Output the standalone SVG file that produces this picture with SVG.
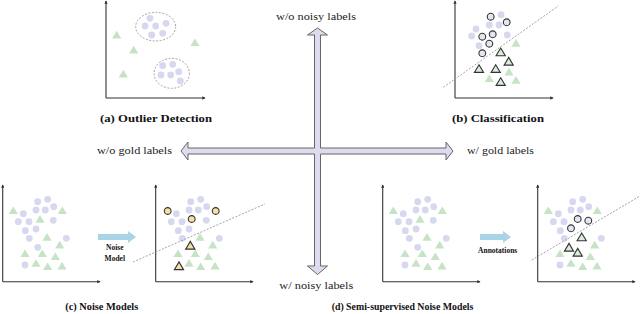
<svg xmlns="http://www.w3.org/2000/svg" xmlns:xlink="http://www.w3.org/1999/xlink" width="640" height="314" viewBox="0 0 640 314">
<style>
.ax{stroke:#333;stroke-width:1.1;fill:none}
.p{fill:#d6d8ef}
.g{fill:#c6e3c6}
.oc{fill:#e4e5f4;stroke:#333;stroke-width:1.1}
.ot{fill:#d9edd9;stroke:#333;stroke-width:1.1}
.yc{fill:#f6dfa6;stroke:#333;stroke-width:1.1}
.dash{stroke:#999;stroke-width:0.9;stroke-dasharray:2 1.5;fill:none}
.cap{font-family:"Liberation Serif","DejaVu Serif",serif;font-weight:bold;font-size:10.5px;fill:#111;text-anchor:middle}
.lab{font-family:"Liberation Serif","DejaVu Serif",serif;font-size:10.5px;fill:#222}
.sm{font-family:"Liberation Serif","DejaVu Serif",serif;font-weight:bold;font-size:7.5px;fill:#111;text-anchor:middle}
.blue{fill:#a9d3e6}
</style>
<defs>
<marker id="ah" viewBox="0 0 6 6" refX="5" refY="3" markerWidth="3" markerHeight="3" orient="auto"><path d="M0,0L6,3L0,6Z" fill="#333"/></marker>
<circle id="c" r="3.4"/>
<polygon id="t" points="0,-4.3 4.6,3.4 -4.6,3.4"/>
</defs>

<g id="connectors">
<path d="M317.5,28 L327.5,35 L320.5,35 L320.5,148 L446,148 L446,142 L453,151 L446,160 L446,154 L320.5,154 L320.5,266 L327.5,266 L317.5,274.5 L307.5,266 L314.5,266 L314.5,154 L188,154 L188,160 L181,151 L188,142 L188,148 L314.5,148 L314.5,35 L307.5,35 Z" fill="#dcdcee" stroke="#666" stroke-width="1"/>
<path class="blue" d="M98,234 L128,234 L128,231 L136,237 L128,243 L128,240 L98,240 Z"/>
<path class="blue" d="M480,234 L503,234 L503,231 L511,237 L503,243 L503,240 L480,240 Z"/>
</g>

<g id="labels">
<text class="lab" x="316" y="20" text-anchor="middle" textLength="80" lengthAdjust="spacingAndGlyphs">w/o noisy labels</text>
<text class="lab" x="316.3" y="289" text-anchor="middle" textLength="74" lengthAdjust="spacingAndGlyphs">w/ noisy labels</text>
<text class="lab" x="97" y="154" textLength="75" lengthAdjust="spacingAndGlyphs">w/o gold labels</text>
<text class="lab" x="467" y="154" textLength="67" lengthAdjust="spacingAndGlyphs">w/ gold labels</text>
<text class="sm" x="114.8" y="250">Noise</text>
<text class="sm" x="114.8" y="261">Model</text>
<text class="sm" x="497.7" y="253">Annotations</text>
</g>

<g id="panel-a">
<path class="ax" d="M106,98 L106,1" marker-end="url(#ah)"/>
<path class="ax" d="M106,98 L205,98" marker-end="url(#ah)"/>
<ellipse cx="155.7" cy="26.7" rx="20" ry="14.3" class="dash"/>
<ellipse cx="171.7" cy="73.3" rx="17.7" ry="15" class="dash"/>
<g class="p">
<use href="#c" x="150" y="18.3"/><use href="#c" x="145" y="26"/><use href="#c" x="155.7" y="26"/><use href="#c" x="166" y="23.3"/><use href="#c" x="151.7" y="35"/><use href="#c" x="162.7" y="33.3"/>
<use href="#c" x="162.7" y="65.7"/><use href="#c" x="172.7" y="64.3"/><use href="#c" x="161" y="75"/><use href="#c" x="170.7" y="75"/><use href="#c" x="178.7" y="71.7"/><use href="#c" x="180.3" y="81"/>
</g>
<g class="g">
<use href="#t" x="116.7" y="35"/><use href="#t" x="133.7" y="50"/><use href="#t" x="123.3" y="74"/><use href="#t" x="195" y="42.7"/>
</g>
<text class="cap" x="156" y="122" textLength="112" lengthAdjust="spacingAndGlyphs">(a) Outlier Detection</text>
</g>

<g id="panel-b">
<path class="ax" d="M455,98 L455,1" marker-end="url(#ah)"/>
<path class="ax" d="M455,98 L553,98" marker-end="url(#ah)"/>
<line class="dash" x1="443.3" y1="87.3" x2="558.3" y2="6"/>
<g class="p">
<use href="#c" x="501" y="14.7"/><use href="#c" x="489.3" y="25"/><use href="#c" x="499" y="25"/><use href="#c" x="476" y="29"/><use href="#c" x="471.7" y="36"/><use href="#c" x="507.3" y="35"/><use href="#c" x="479" y="45.7"/>
</g>
<g class="oc">
<use href="#c" x="490.7" y="16.7"/><use href="#c" x="506.7" y="22.3"/><use href="#c" x="482.3" y="36.7"/><use href="#c" x="492.7" y="34.3"/><use href="#c" x="489.3" y="43.7"/><use href="#c" x="482.3" y="53.3"/>
</g>
<g class="g">
<use href="#t" x="516" y="43.3"/><use href="#t" x="509" y="72"/><use href="#t" x="489.3" y="78.7"/><use href="#t" x="516" y="80.3"/>
</g>
<g class="ot">
<use href="#t" x="500.7" y="52.3"/><use href="#t" x="508.7" y="61.7"/><use href="#t" x="479" y="69"/><use href="#t" x="495.7" y="69"/><use href="#t" x="500.7" y="82"/>
</g>
<text class="cap" x="498" y="122" textLength="92" lengthAdjust="spacingAndGlyphs">(b) Classification</text>
</g>

<g id="panel-c-before">
<path class="ax" d="M2.7,281.7 L2.7,185" marker-end="url(#ah)"/>
<path class="ax" d="M2.7,281.7 L100,281.7" marker-end="url(#ah)"/>
<g class="p">
<use href="#c" x="37.7" y="201.7"/><use href="#c" x="47.7" y="199.3"/><use href="#c" x="36" y="210"/><use href="#c" x="45.3" y="210"/><use href="#c" x="53.7" y="206.7"/><use href="#c" x="23.3" y="213.7"/><use href="#c" x="18.3" y="221.7"/><use href="#c" x="29" y="221.7"/><use href="#c" x="53.3" y="220.3"/><use href="#c" x="25.3" y="230.7"/><use href="#c" x="36" y="229"/><use href="#c" x="29.3" y="238.3"/><use href="#c" x="66.3" y="238.3"/><use href="#c" x="37.7" y="247.3"/><use href="#c" x="25" y="265"/>
</g>
<g class="g">
<use href="#t" x="13.3" y="210.7"/><use href="#t" x="62.3" y="210.7"/><use href="#t" x="40" y="219.3"/><use href="#t" x="47" y="237.3"/><use href="#t" x="59.7" y="245"/><use href="#t" x="25" y="253.7"/><use href="#t" x="42.3" y="253.7"/><use href="#t" x="55.3" y="256.7"/><use href="#t" x="36" y="263.3"/><use href="#t" x="47.7" y="266.7"/><use href="#t" x="62" y="266"/>
</g>
</g>

<g id="panel-c-after" transform="translate(153,0)">
<path class="ax" d="M2.7,281.7 L2.7,185" marker-end="url(#ah)"/>
<path class="ax" d="M2.7,281.7 L100,281.7" marker-end="url(#ah)"/>
<g class="p">
<use href="#c" x="37.7" y="201.7"/><use href="#c" x="47.7" y="199.3"/><use href="#c" x="36" y="210"/><use href="#c" x="45.3" y="210"/><use href="#c" x="53.7" y="206.7"/><use href="#c" x="23.3" y="213.7"/><use href="#c" x="18.3" y="221.7"/><use href="#c" x="29" y="221.7"/><use href="#c" x="53.3" y="220.3"/><use href="#c" x="25.3" y="230.7"/><use href="#c" x="36" y="229"/><use href="#c" x="29.3" y="238.3"/><use href="#c" x="66.3" y="238.3"/>
</g>
<g class="yc">
<use href="#c" x="14.7" y="211"/><use href="#c" x="62.7" y="211"/><use href="#c" x="38.7" y="219"/>
</g>
<g class="g">
<use href="#t" x="47" y="237.3"/><use href="#t" x="59.7" y="245"/><use href="#t" x="25" y="253.7"/><use href="#t" x="42.3" y="253.7"/><use href="#t" x="55.3" y="256.7"/><use href="#t" x="36" y="263.3"/><use href="#t" x="47.7" y="266.7"/><use href="#t" x="62" y="266"/>
</g>
<g class="yc">
<use href="#t" x="37.3" y="245.7"/><use href="#t" x="26" y="266.2"/>
</g>
</g>
<line id="c-boundary" class="dash" x1="133" y1="262" x2="265" y2="204"/>
<text class="cap" x="101.7" y="310" textLength="73" lengthAdjust="spacingAndGlyphs">(c) Noise Models</text>

<g id="panel-d-before" transform="translate(380,0)">
<path class="ax" d="M2.7,281.7 L2.7,185" marker-end="url(#ah)"/>
<path class="ax" d="M2.7,281.7 L100,281.7" marker-end="url(#ah)"/>
<g class="p">
<use href="#c" x="37.7" y="201.7"/><use href="#c" x="47.7" y="199.3"/><use href="#c" x="36" y="210"/><use href="#c" x="45.3" y="210"/><use href="#c" x="53.7" y="206.7"/><use href="#c" x="23.3" y="213.7"/><use href="#c" x="18.3" y="221.7"/><use href="#c" x="29" y="221.7"/><use href="#c" x="53.3" y="220.3"/><use href="#c" x="25.3" y="230.7"/><use href="#c" x="36" y="229"/><use href="#c" x="29.3" y="238.3"/><use href="#c" x="66.3" y="238.3"/><use href="#c" x="37.7" y="247.3"/><use href="#c" x="25" y="265"/>
</g>
<g class="g">
<use href="#t" x="13.3" y="210.7"/><use href="#t" x="62.3" y="210.7"/><use href="#t" x="40" y="219.3"/><use href="#t" x="47" y="237.3"/><use href="#t" x="59.7" y="245"/><use href="#t" x="25" y="253.7"/><use href="#t" x="42.3" y="253.7"/><use href="#t" x="55.3" y="256.7"/><use href="#t" x="36" y="263.3"/><use href="#t" x="47.7" y="266.7"/><use href="#t" x="62" y="266"/>
</g>
</g>

<g id="panel-d-after" transform="translate(535,0)">
<path class="ax" d="M2.7,281.7 L2.7,185" marker-end="url(#ah)"/>
<path class="ax" d="M2.7,281.7 L100,281.7" marker-end="url(#ah)"/>
<g class="p">
<use href="#c" x="37.7" y="201.7"/><use href="#c" x="47.7" y="199.3"/><use href="#c" x="36" y="210"/><use href="#c" x="45.3" y="210"/><use href="#c" x="53.7" y="206.7"/><use href="#c" x="23.3" y="213.7"/><use href="#c" x="18.3" y="221.7"/><use href="#c" x="29" y="221.7"/><use href="#c" x="25.3" y="230.7"/><use href="#c" x="29.3" y="238.3"/><use href="#c" x="66.3" y="238.3"/><use href="#c" x="25" y="265"/>
</g>
<g class="g">
<use href="#t" x="13.3" y="210.7"/><use href="#t" x="62.3" y="210.7"/><use href="#t" x="59.7" y="245"/><use href="#t" x="25" y="253.7"/><use href="#t" x="55.3" y="256.7"/><use href="#t" x="36" y="263.3"/><use href="#t" x="47.7" y="266.7"/><use href="#t" x="62" y="266"/>
</g>
<g class="oc">
<use href="#c" x="42.7" y="219"/><use href="#c" x="53.3" y="220.7"/><use href="#c" x="36" y="228.3"/>
</g>
<g class="ot">
<use href="#t" x="46.7" y="237.3"/><use href="#t" x="34" y="247.7"/><use href="#t" x="42.7" y="252.7"/>
</g>
</g>
<line id="d-boundary" class="dash" x1="531.7" y1="260" x2="640" y2="196"/>
<text class="cap" x="402.5" y="310" textLength="141.7" lengthAdjust="spacingAndGlyphs">(d) Semi-supervised Noise Models</text>
</svg>
